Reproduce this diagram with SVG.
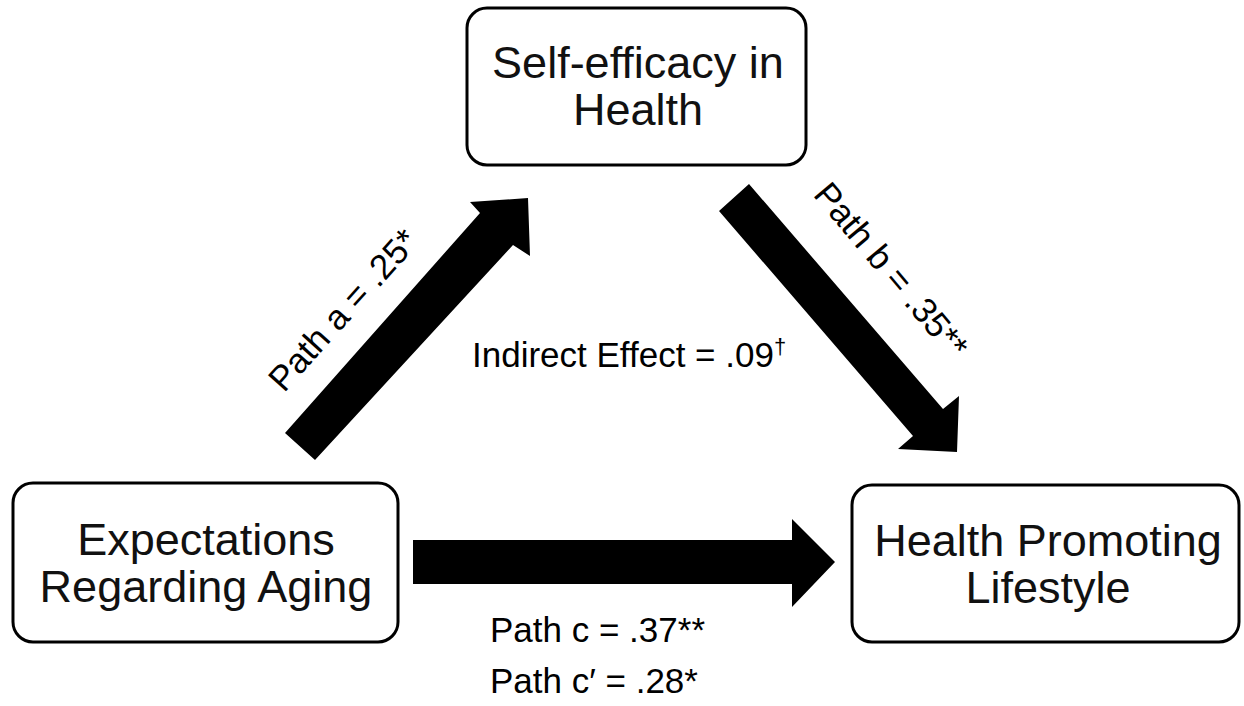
<svg xmlns="http://www.w3.org/2000/svg" width="1244" height="706" viewBox="0 0 1244 706">
<style>
.box{fill:#fff;stroke:#000;stroke-width:3}
.nt{font-family:"Liberation Sans",Arial,sans-serif;font-size:45px;fill:#111;text-anchor:middle}
.lb{font-family:"Liberation Sans",Arial,sans-serif;font-size:35px;fill:#000}
.arr{fill:#000}
</style>
<rect width="1244" height="706" fill="#fff"/>
<g id="connectors">
<polygon class="arr" points="285,433 480,213 470,202 528,198 530,256 513,245 315,460"/>
<polygon class="arr" points="749,184 943,409 959,396 957,452 898,449 913,436 719,211"/>
<polygon class="arr" points="413,540 792,540 792,519 835,562 792,607 792,584 413,584"/>
</g>
<g id="node-self-efficacy">
<rect class="box" x="467" y="8" width="339" height="157" rx="20"/>
<text class="nt" x="638" y="78">Self-efficacy in</text>
<text class="nt" x="638" y="125">Health</text>
</g>
<g id="node-expectations">
<rect class="box" x="13" y="483" width="385" height="159" rx="20"/>
<text class="nt" x="206" y="555">Expectations</text>
<text class="nt" x="206" y="602">Regarding Aging</text>
</g>
<g id="node-hpl">
<rect class="box" x="852" y="485" width="387" height="157" rx="20"/>
<text class="nt" x="1048" y="556">Health Promoting</text>
<text class="nt" x="1048" y="603">Lifestyle</text>
</g>
<g id="labels">
<text class="lb" text-anchor="middle" transform="translate(352,318) rotate(-48)">Path a = .25*</text>
<text class="lb" text-anchor="middle" transform="translate(882,278) rotate(50)">Path b = .35**</text>
<text class="lb" x="472" y="367">Indirect Effect = .09<tspan font-size="22" dy="-13">†</tspan></text>
<text class="lb" x="490" y="642">Path c = .37**</text>
<text class="lb" x="490" y="693">Path c′ = .28*</text>
</g>
</svg>
